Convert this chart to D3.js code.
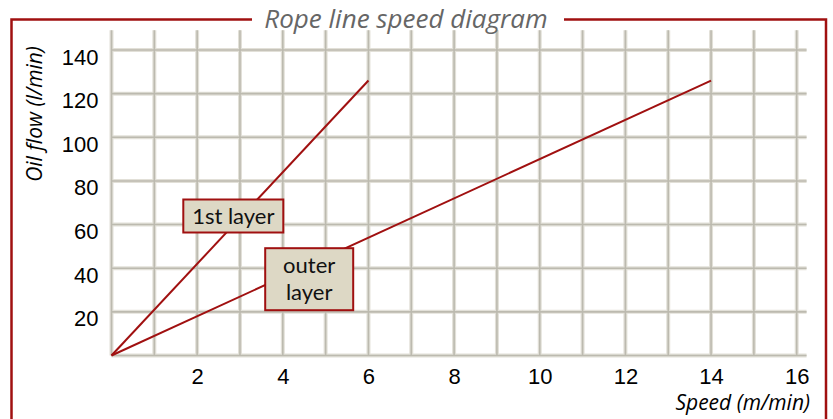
<!DOCTYPE html>
<html>
<head>
<meta charset="utf-8">
<script src="https://cdn.jsdelivr.net/npm/d3@7/dist/d3.min.js"></script>
<style>
  html, body { margin: 0; padding: 0; background: #ffffff; }
  svg { display: block; }
</style>
</head>
<body>
<svg id="chart" width="833" height="419"></svg>
<script>
// Rope line speed diagram: oil flow against rope speed for two drum layers
const xTicks = [2, 4, 6, 8, 10, 12, 14, 16];
const yTicks = [20, 40, 60, 80, 100, 120, 140];
const seriesNames = ["1st layer", "outer layer"];
const speedFirst = [0, 6];
const flowFirst = [0, 126];
const speedOuter = [0, 14];
const flowOuter = [0, 126];

const W = 833, H = 419;
const red = "#a01010";

const svg = d3.select("#chart");

const x = d3.scaleLinear().domain([0, 16]).range([111.5, 796.7]);
const y = d3.scaleLinear().domain([0, 140]).range([355.5, 50]);
const xGridMax = 16.23;   // horizontal grid lines run a little past the last column
const yGridMax = 149;     // vertical grid lines run a little above the top row

// Grid: one column per 1 m/min, one row per 20 l/min; soft edge plus darker core
const grid = svg.append("g");
[{ w: 4, c: "#e2e0d8" }, { w: 1.6, c: "#bcbaaf" }].forEach(s => {
  grid.append("g").selectAll("line")
    .data(d3.range(0, 17))
    .join("line")
    .attr("x1", d => x(d)).attr("x2", d => x(d))
    .attr("y1", y(0)).attr("y2", y(yGridMax))
    .attr("stroke", s.c).attr("stroke-width", s.w);
  grid.append("g").selectAll("line")
    .data([0].concat(yTicks))
    .join("line")
    .attr("x1", x(0)).attr("x2", x(xGridMax))
    .attr("y1", d => y(d)).attr("y2", d => y(d))
    .attr("stroke", s.c).attr("stroke-width", s.w);
});

// Axes (labels only, no domain or tick marks)
const xAxis = svg.append("g")
  .attr("transform", `translate(0, 384)`)
  .call(d3.axisBottom(x).tickValues(xTicks).tickSize(0).tickPadding(0).tickFormat(d3.format("d")));
const yAxis = svg.append("g")
  .attr("transform", `translate(${x(0) - 13}, 14)`)
  .call(d3.axisLeft(y).tickValues(yTicks).tickSize(0).tickPadding(0).tickFormat(d3.format("d")));
[xAxis, yAxis].forEach(a => {
  a.select(".domain").remove();
  a.selectAll("text")
    .attr("dy", 0)
    .attr("font-family", "'Liberation Sans', Arial, sans-serif")
    .attr("font-weight", "normal")
    .attr("font-size", 22)
    .attr("fill", "#000");
});

// Flow lines
const line = d3.line().x(d => x(d[0])).y(d => y(d[1]));
const series = [
  d3.zip(speedFirst, flowFirst),
  d3.zip(speedOuter, flowOuter)
];
svg.append("g").selectAll("path")
  .data(series)
  .join("path")
  .attr("d", line)
  .attr("fill", "none")
  .attr("stroke", red)
  .attr("stroke-width", 2);

// Series labels in boxes
function labelBox(cx, cy, w, h, lines) {
  const g = svg.append("g");
  g.append("rect")
    .attr("x", cx - w / 2).attr("y", cy - h / 2)
    .attr("width", w).attr("height", h)
    .attr("fill", "#ddd8c5")
    .attr("stroke", red).attr("stroke-width", 2);
  const lh = 27;
  lines.forEach((t, i) => {
    g.append("text")
      .attr("x", cx)
      .attr("y", cy + (i - (lines.length - 1) / 2) * lh)
      .attr("dy", "0.35em")
      .attr("text-anchor", "middle")
      .attr("font-family", "Lato, 'Open Sans', sans-serif")
      .attr("font-size", 22)
      .attr("fill", "#111")
      .text(t);
  });
}
labelBox(233.3, 216, 100, 33, [seriesNames[0]]);
labelBox(309.2, 279.2, 88, 62, seriesNames[1].split(" "));

// Frame with a gap for the title
svg.append("path")
  .attr("d", `M252,19.5 H11.5 V${H + 5} M564,19.5 H826 V${H + 5}`)
  .attr("fill", "none")
  .attr("stroke", red)
  .attr("stroke-width", 2.5);

svg.append("text")
  .attr("x", 406).attr("y", 28)
  .attr("text-anchor", "middle")
  .attr("font-family", "'Open Sans', sans-serif")
  .attr("font-style", "italic")
  .attr("font-size", 26)
  .attr("fill", "#666")
  .text("Rope line speed diagram");

// Axis titles
svg.append("text")
  .attr("transform", `translate(42, 114) rotate(-90)`)
  .attr("text-anchor", "middle")
  .attr("font-family", "'Open Sans', sans-serif")
  .attr("font-style", "italic")
  .attr("font-size", 21)
  .attr("fill", "#000")
  .text("Oil flow (l/min)");
svg.append("text")
  .attr("x", 810).attr("y", 410)
  .attr("text-anchor", "end")
  .attr("font-family", "'Open Sans', sans-serif")
  .attr("font-style", "italic")
  .attr("font-size", 21)
  .attr("fill", "#000")
  .text("Speed (m/min)");
</script>
</body>
</html>
